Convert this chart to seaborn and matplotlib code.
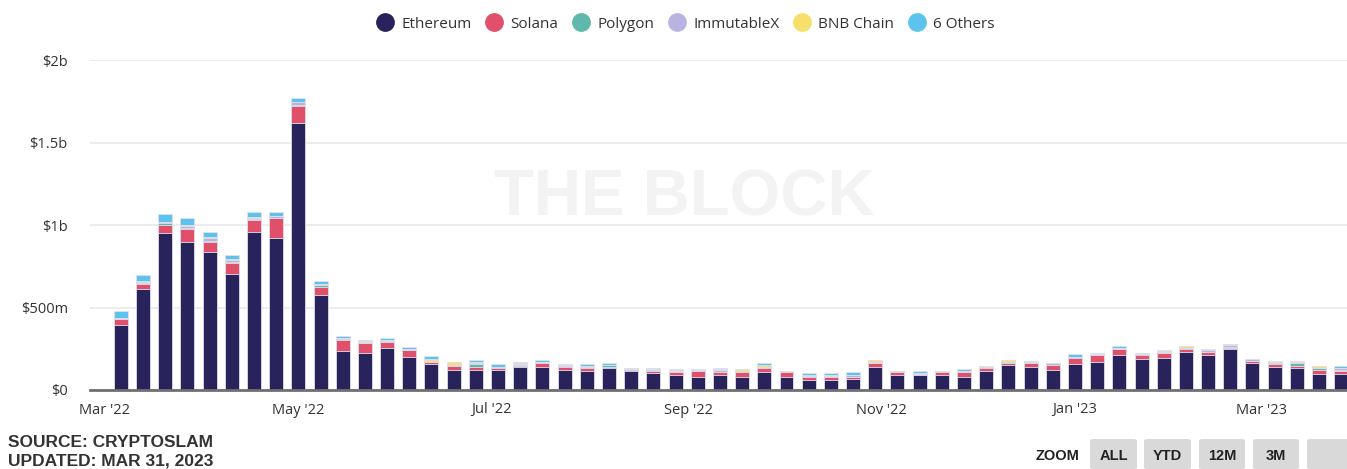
import numpy as np
import pandas as pd
import matplotlib
matplotlib.use("Agg")
import matplotlib.pyplot as plt
import seaborn as sns
from matplotlib.lines import Line2D
from matplotlib.patches import FancyBboxPatch

# weekly NFT trading volume by chain, $ millions
weeks = pd.date_range("2022-03-06", periods=56, freq="7D")
chains = ["Ethereum", "Solana", "Polygon", "ImmutableX", "BNB Chain", "6 Others"]
colors = ["#29235c", "#e0506a", "#5fb8ab", "#b9b3e2", "#f6df6b", "#5cc3ee"]

eth = [394, 612, 950, 897, 834, 703, 960, 923, 1616, 576,
       238, 222, 256, 202, 160, 123, 123, 123, 141, 141,
       123, 117, 135, 117, 105, 89, 79, 89, 79, 107,
       79, 61, 61, 67, 139, 89, 89, 89, 79, 115,
       149, 139, 123, 160, 168, 214, 186, 196, 230, 214,
       248, 162, 141, 133, 97, 97]
sol = [34, 28, 52, 79, 63, 69, 70, 117, 107, 46,
       65, 61, 35, 40, 9, 24, 16, 12, 5, 21,
       18, 18, 6, 6, 12, 20, 36, 20, 28, 28,
       28, 20, 18, 10, 23, 18, 3, 18, 28, 20,
       15, 23, 28, 36, 44, 34, 28, 26, 18, 16,
       4, 14, 19, 14, 26, 18]
poly = [3, 10, 10, 5, 5, 5, 5, 5, 5, 12,
        8, 3, 6, 2, 3, 2, 18, 3, 3, 3,
        2, 3, 8, 2, 4, 2, 2, 2, 2, 3,
        2, 2, 2, 4, 2, 2, 8, 1, 2, 2,
        6, 3, 2, 2, 2, 2, 2, 4, 6, 2,
        10, 2, 2, 16, 9, 6]
imx = [3, 3, 5, 15, 17, 12, 10, 8, 15, 5,
       2, 4, 3, 2, 3, 2, 8, 2, 10, 2,
       6, 2, 2, 2, 2, 2, 3, 10, 2, 2,
       2, 4, 6, 10, 8, 8, 2, 2, 2, 2,
       2, 2, 9, 2, 2, 2, 5, 3, 2, 8,
       13, 8, 10, 4, 3, 10]
bnb = [1, 7, 2, 5, 10, 2, 2, 2, 2, 2,
       1, 5, 4, 1, 12, 19, 4, 1, 2, 2,
       1, 6, 2, 8, 2, 6, 1, 6, 8, 12,
       6, 1, 1, 2, 10, 1, 1, 7, 2, 6,
       8, 1, 0, 1, 1, 2, 1, 8, 9, 1,
       1, 0, 1, 11, 8, 2]
others = [45, 35, 48, 40, 30, 30, 30, 22, 27, 18,
          15, 10, 9, 13, 19, 2, 13, 15, 11, 13,
          6, 10, 11, 0, 8, 8, 6, 8, 8, 12,
          0, 15, 15, 16, 0, 0, 14, 0, 14, 0,
          0, 5, 0, 15, 7, 13, 0, 3, 2, 7,
          1, 0, 5, 0, 0, 10]

month_ticks = ["2022-03-01", "2022-05-01", "2022-07-01", "2022-09-01",
               "2022-11-01", "2023-01-01", "2023-03-01"]
month_labels = ["Mar '22", "May '22", "Jul '22", "Sep '22", "Nov '22", "Jan '23", "Mar '23"]
y_ticks = [0, 500, 1000, 1500, 2000]
y_labels = ["$0", "$500m", "$1b", "$1.5b", "$2b"]

sns.set_style("white")
plt.rcParams["font.family"] = ["Open Sans", "DejaVu Sans"]

df = pd.DataFrame({"week": np.arange(len(weeks))})
series = [eth, sol, poly, imx, bnb, others]
stack = np.cumsum(np.array(series, dtype=float), axis=0)

W, H = 1347, 469
fig = plt.figure(figsize=(W / 100, H / 100), dpi=100)
ax = fig.add_axes([90 / W, 1 - 390 / H, 1 - 90 / W, (390 - 60) / H])

fig.text(684 / W, 1 - 199 / H, "THE BLOCK", fontsize=47, fontweight="bold",
         color="#f3f3f3", ha="center", va="center", family="Liberation Sans", zorder=0)
ax.set_facecolor("none")

# draw from the full stack downwards so each layer covers the one above it
for i in reversed(range(len(chains))):
    sns.barplot(x=df["week"], y=stack[i], color=colors[i], saturation=1,
                width=0.63, edgecolor="#e2e0ee", linewidth=0.6,
                errorbar=None, ax=ax)

ax.set_ylim(0, 2000)
ax.set_xlim(-1.39, 55.26)
ax.set_yticks(y_ticks)
ax.set_yticklabels(y_labels)
pos = [(pd.Timestamp(d) - weeks[0]).days / 7 for d in month_ticks]
ax.set_xticks(pos)
ax.set_xticklabels(month_labels)
ax.set_xlabel("")
ax.set_ylabel("")
ax.tick_params(axis="y", length=0, pad=16, labelsize=10.5, labelcolor="#333333")
ax.tick_params(axis="x", length=0, pad=9, labelsize=10.5, labelcolor="#333333")
ax.grid(axis="y", color="#ececec", linewidth=1.4)
ax.set_axisbelow(True)
for s in ["top", "right", "left"]:
    ax.spines[s].set_visible(False)
ax.spines["bottom"].set_color("#707070")
ax.spines["bottom"].set_linewidth(2)

handles = [Line2D([], [], marker="o", linestyle="", markersize=12.5,
                  markerfacecolor=c, markeredgecolor=c) for c in colors]
fig.legend(handles, chains, loc="center", bbox_to_anchor=(686 / W, 1 - 24 / H),
           ncol=6, frameon=False, fontsize=11, handletextpad=0.55,
           columnspacing=1.0, handlelength=1.0, labelcolor="#333333")

fig.text(8 / W, 1 - 442 / H, "SOURCE: CRYPTOSLAM", fontsize=12.5, fontweight="bold",
         family="Liberation Sans", color="#333333", va="center")
fig.text(8 / W, 1 - 461 / H, "UPDATED: MAR 31, 2023", fontsize=12.5, fontweight="bold",
         family="Liberation Sans", color="#333333", va="center")

fig.text(1058 / W, 1 - 456 / H, "ZOOM", fontsize=10.5, fontweight="bold",
         family="Liberation Sans", color="#222222", ha="center", va="center")
buttons = [("ALL", 1090, 1137), ("YTD", 1144, 1191), ("12M", 1199, 1245),
           ("3M", 1253, 1299), ("", 1307, 1352)]
for lab, x0, x1 in buttons:
    box = FancyBboxPatch((x0 / W, 0), (x1 - x0) / W, (469 - 439) / H,
                         boxstyle="round,pad=0,rounding_size=0.003",
                         transform=fig.transFigure, facecolor="#d9d9d9",
                         edgecolor="none", zorder=1)
    fig.patches.append(box)
    if lab:
        fig.text((x0 + x1) / 2 / W, 1 - 456 / H, lab, fontsize=10.5, fontweight="bold",
                 family="Liberation Sans", color="#222222", ha="center", va="center",
                 zorder=2)

fig.savefig("out.png", dpi=100)
